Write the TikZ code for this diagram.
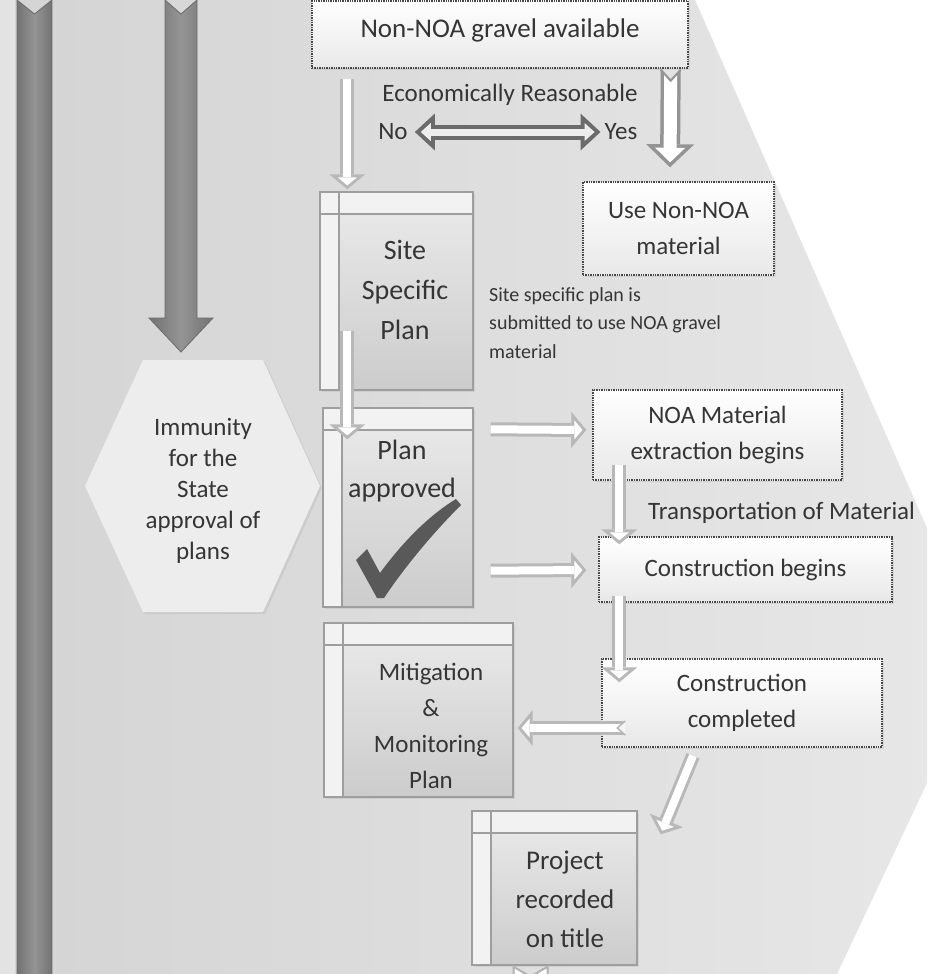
\documentclass[tikz,border=0pt]{standalone}
\usepackage{fontspec}
\setmainfont{Carlito}
\usetikzlibrary{arrows.meta,calc,shadows}
\definecolor{inkgray}{HTML}{353535}
\definecolor{bggray}{HTML}{D4D4D4}
\definecolor{bglight}{HTML}{E8E8E8}
\tikzset{
	txt/.style={text=inkgray, inner sep=1pt, align=center, font=\fontsize{25}{36}\selectfont},
	dotbox/.style={draw=black!72, densely dotted, line width=1.4pt, top color=white, bottom color=black!9, text=inkgray, align=center, font=\fontsize{25}{36}\selectfont, drop shadow={opacity=0.15, shadow xshift=2pt, shadow yshift=-2pt}},
	docbox/.style={draw=black!38, line width=1.4pt, top color=black!8, bottom color=black!20, drop shadow={opacity=0.15, shadow xshift=2pt, shadow yshift=-2pt},
		path picture={
			\fill[black!5] (path picture bounding box.north west) rectangle ([xshift=19pt]path picture bounding box.south west);
			\fill[black!5] (path picture bounding box.north west) rectangle ([yshift=-22pt]path picture bounding box.north east);
			\draw[black!38, line width=1.2pt] ([xshift=19pt]path picture bounding box.north west) -- ([xshift=19pt]path picture bounding box.south west);
			\draw[black!38, line width=1.2pt] ([yshift=-22pt]path picture bounding box.north west) -- ([yshift=-22pt]path picture bounding box.north east);
		}},
	greyarrow/.style={draw=black!58, line width=0.8pt, left color=black!55, right color=black!55, middle color=black!42},
	wharrow/.style={draw=white, line width=8pt, shorten >=3.9pt, -{Triangle[width=19pt,length=8pt,line width=0pt]},
		preaction={draw=black!28, line width=14pt, shorten >=0pt, -{Triangle[width=36pt,length=15pt,line width=0pt]}}},
	yesarrow/.style={draw=white, line width=13pt, shorten >=4.9pt, -{Triangle[width=30pt,length=14.6pt,line width=0pt]},
		preaction={draw=black!42, line width=20pt, shorten >=0pt, -{Triangle[width=48pt,length=23pt,line width=0pt]}}},
	bothway/.style={draw=black!7, line width=7pt, shorten >=5.9pt, shorten <=5.9pt, {Triangle[width=18pt,length=10pt,line width=0pt]}-{Triangle[width=18pt,length=10pt,line width=0pt]},
		preaction={draw=black!58, line width=15pt, shorten >=0pt, shorten <=0pt, {Triangle[width=37pt,length=20pt,line width=0pt]}-{Triangle[width=37pt,length=20pt,line width=0pt]}}}
}
\begin{document}
\begin{tikzpicture}[x=1pt,y=-1pt]
	\useasboundingbox (0,0) rectangle (927,974);
	\clip (0,0) rectangle (927,974);
	\fill[white] (0,0) rectangle (927,974);
	\shade[left color=bggray, right color=bglight] (0,0) -- (695,0) -- (985,660) -- (837,974) -- (0,974) -- cycle;
	\fill[black!11] (0,0) rectangle (15,974);
	\draw[greyarrow] (17,0) -- (34.5,14) -- (52,0) -- (52,980) -- (17,980) -- cycle;
	\draw[greyarrow] (165,0) -- (181,14) -- (197,0) -- (197,318) -- (213,318) -- (181,352) -- (149,318) -- (165,318) -- cycle;
	\fill[black!7, drop shadow={opacity=0.15, shadow xshift=2pt, shadow yshift=-2pt}] (85,486) -- (143,360) -- (263,360) -- (320,486) -- (263,612) -- (143,612) -- cycle;
	\node[txt, font=\fontsize{25}{31}\selectfont] (immunity) at (203,491) {Immunity\\for the\\State\\approval of\\plans};

	\node[dotbox, minimum width=376pt, minimum height=67pt, text depth=13pt, font=\fontsize{27}{33}\selectfont] (gravel) at (500,34.5) {Non-NOA gravel available};
	\node[dotbox, minimum width=191pt, minimum height=93pt] (usenon) at (678.5,228.5) {Use Non-NOA\\material};
	\node[docbox, minimum width=153pt, minimum height=198pt] (site) at (396.5,291) {};
	\node[docbox, minimum width=150pt, minimum height=199pt] (approved) at (398,507.5) {};
	\node[docbox, minimum width=189pt, minimum height=174pt] (mitig) at (418.5,710) {};
	\node[docbox, minimum width=165pt, minimum height=154pt] (project) at (554.5,888) {};
	\node[dotbox, minimum width=249pt, minimum height=90pt] (noamat) at (717.5,435) {NOA Material\\extraction begins};
	\node[dotbox, minimum width=293pt, minimum height=65pt] (cbegins) at (745.5,569.5) {Construction begins};
	\node[dotbox, minimum width=280pt, minimum height=88pt] (ccompl) at (742,703) {Construction\\completed};

	\node[txt, font=\fontsize{28}{40}\selectfont] (sitetxt) at (405,290) {Site\\Specific\\Plan};
	\node[txt, font=\fontsize{28}{38}\selectfont] (approvedtxt) at (402,471) {Plan\\approved};
	\node[txt, font=\fontsize{25}{36}\selectfont] (mitigtxt) at (431,726) {Mitigation\\\&\\Monitoring\\Plan};
	\node[txt, font=\fontsize{27}{39}\selectfont] (projecttxt) at (565,899) {Project\\recorded\\on title};
	\node[txt] (econ) at (510,95) {Economically Reasonable};
	\node[txt] (no) at (393,132) {No};
	\node[txt] (yes) at (621,132) {Yes};
	\node[txt, font=\fontsize{20}{28.5}\selectfont, align=left, anchor=west] (sitenote) at (488,323) {Site specific plan is\\submitted to use NOA gravel\\material};
	\node[txt, anchor=west] (transp) at (647,513) {Transportation of Material};

	\fill[black!65] (356,560) -- (367,549) -- (380,573) .. controls (402,543) and (428,516) .. (456,499) -- (461,505) .. controls (432,534) and (404,568) .. (384,598) -- (377,598) -- cycle;

	\draw[wharrow] ($(gravel.south west)+(36,10)$) -- ($(site.north west)+(28,-2)$);
	\draw[yesarrow] ($(gravel.south east)+(-18,2)$) -- ($(usenon.north)+(-8.5,-14)$);
	\filldraw[fill=bglight!68!bggray, draw=black!42, line width=2pt] ($(gravel.south east)+(-28,1)$) -- ++(10,11) -- ++(10,-11);
	\draw[bothway] ($(no.east)+(6,0)$) -- ($(yes.west)+(-3,0)$);
	\draw[wharrow] ($(site.south west)+(28,-60)$) -- ($(approved.north west)+(25,32)$);
	\draw[wharrow] ($(approved.north east)+(17,22)$) -- ($(noamat.west)+(-6,-5)$);
	\draw[wharrow] ($(approved.south east)+(17,-37)$) -- ($(cbegins.west)+(-12,0.5)$);
	\draw[wharrow] ($(noamat.south west)+(27,-16)$) -- ($(cbegins.north west)+(21,8)$);
	\draw[wharrow] ($(cbegins.south west)+(21,-7)$) -- ($(ccompl.north west)+(18,24)$);
	\draw[wharrow] ($(ccompl.west)+(23,25)$) -- ($(mitig.east)+(4,18)$);
	\filldraw[fill=black!4, draw=black!28, line width=1.5pt] ($(ccompl.west)+(24,18)$) -- ++(-8,7) -- ++(8,7);
	\draw[wharrow] ($(ccompl.south)+(-49,8)$) -- ($(project.north east)+(23,24)$);
	\filldraw[fill=white, draw=black!30, line width=2pt] ($(project.south)+(-41,1)$) -- ++(17,10) -- ++(17,-10) -- ++(0,15) -- ++(-34,0) -- cycle;
\end{tikzpicture}
\end{document}
